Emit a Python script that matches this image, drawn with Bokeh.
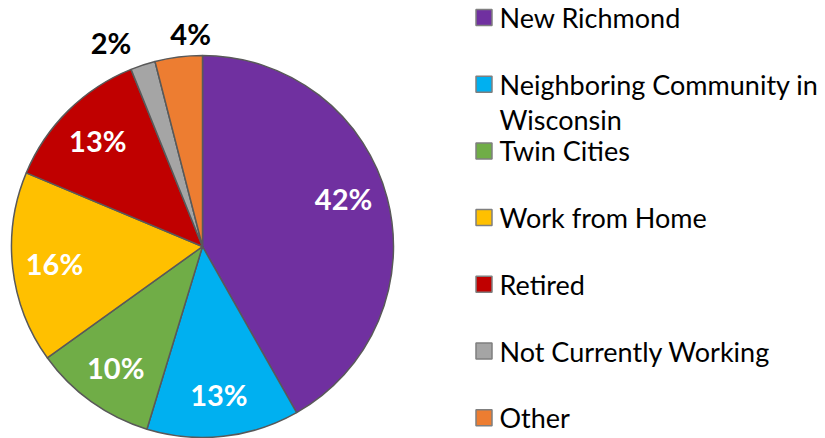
import math
from bokeh.plotting import figure
from bokeh.models import ColumnDataSource, Range1d
from bokeh.core.properties import value
from bokeh.embed import file_html
from bokeh.resources import INLINE

# ---- data ----
categories = ["New Richmond", "Neighboring Community in\nWisconsin", "Twin Cities",
              "Work from Home", "Retired", "Not Currently Working", "Other"]
values = [41.8, 12.9, 10.4, 16.2, 12.6, 2.1, 4.0]
colors = ["#7030A0", "#00B0F0", "#70AD47", "#FFC000", "#C00000", "#A5A5A5", "#ED7D31"]

# ---- layout (figure coordinates = pixels, origin bottom-left) ----
W, H = 825, 438
FONT = "Lato"
cx, cy, R = 202, H - 246, 191

p = figure(width=W, height=H, x_range=Range1d(0, W), y_range=Range1d(0, H),
           output_backend="svg", toolbar_location=None, min_border=0)
p.axis.visible = False
p.grid.visible = False
p.outline_line_color = None
p.background_fill_color = "white"

total = sum(values)
starts, ends, mids = [], [], []
cum = 0.0
for v in values:
    a0 = cum / total * 2 * math.pi
    cum += v
    a1 = cum / total * 2 * math.pi
    starts.append(math.pi / 2 - a0)
    ends.append(math.pi / 2 - a1)
    mids.append((a0 + a1) / 2)  # clockwise from top

src = ColumnDataSource(dict(start=starts, end=ends, color=colors))
p.wedge(x=cx, y=cy, radius=R, start_angle="start", end_angle="end", direction="clock",
        fill_color="color", line_color="#595959", line_width=1.5, source=src)

# ---- data labels ----
outside = {5: (1.17, -6), 6: (1.115, 4)}   # index -> (radius factor, angle nudge in degrees)
lx, ly, lt, lc = [], [], [], []
for i, v in enumerate(values):
    pct = round(v / total * 100)
    th = mids[i]
    if i in outside:
        rf, nd = outside[i]
        th += math.radians(nd)
        col = "black"
    else:
        rf = 0.78
        col = "white"
        if i == 0:
            th -= math.radians(4)
    lx.append(cx + rf * R * math.sin(th))
    ly.append(cy + rf * R * math.cos(th))
    lt.append(f"{pct}%")
    lc.append(col)
p.text(x=lx, y=ly, text=lt, text_color=lc, text_font=value(FONT), text_font_style="bold",
       text_font_size="29px", text_align="center", text_baseline="middle")

# ---- legend ----
top_y, step, line_gap = H - 17, 66.7, 35
mx, tx = 483.5, 499
mkx, mky, mkc = [], [], []
txx, txy, txt = [], [], []
for i, (cat, col) in enumerate(zip(categories, colors)):
    y = top_y - i * step
    mkx.append(mx); mky.append(y); mkc.append(col)
    for j, line in enumerate(cat.split("\n")):
        txx.append(tx); txy.append(y - j * line_gap); txt.append(line)
p.scatter(x=mkx, y=mky, marker="square", size=16, fill_color=mkc,
          line_color="#7F7F7F", line_width=1.5)
p.text(x=txx, y=txy, text=txt, text_color="black", text_font=value(FONT),
       text_font_size="27px", text_align="left", text_baseline="middle")

open("out.html", "w").write(file_html(p, INLINE))
